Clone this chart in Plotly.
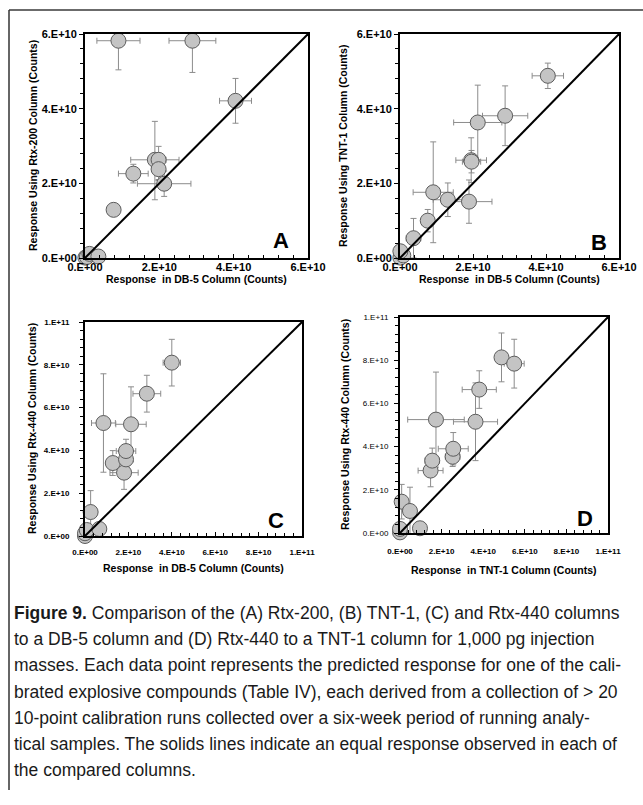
import plotly.graph_objects as go

# ---------------- data (units of 1e10 counts) ----------------
# Panel A: Rtx-200 vs DB-5
a_x = [0.01, 0.05, 0.12, 0.36, 0.77, 1.30, 1.88, 1.98, 1.98, 2.13, 0.90, 2.89, 4.05]
a_y = [0.01, 0.03, 0.11, 0.04, 1.29, 2.26, 2.63, 2.63, 2.38, 1.99, 5.82, 5.82, 4.21]
a_ex = [0.0, 0.0, 0.05, 0.15, 0.0, 0.40, 0.65, 0.20, 0.15, 0.72, 0.58, 0.63, 0.43]
a_eyp = [0.0, 0.0, 0.05, 0.0, 0.0, 0.25, 1.03, 0.36, 0.30, 0.34, 0.34, 0.34, 0.60]
a_eym = [0.0, 0.0, 0.05, 0.0, 0.0, 0.25, 1.07, 0.53, 0.30, 0.34, 0.78, 0.85, 0.60]

# Panel B: TNT-1 vs DB-5
b_x = [0.01, 0.09, 0.01, 0.37, 0.76, 0.91, 1.31, 1.89, 1.95, 1.96, 2.13, 2.88, 4.05]
b_y = [0.01, 0.07, 0.18, 0.53, 1.00, 1.76, 1.56, 1.51, 2.62, 2.58, 3.63, 3.81, 4.88]
b_ex = [0.0, 0.0, 0.0, 0.20, 0.10, 0.55, 0.40, 0.63, 0.42, 0.25, 0.66, 0.62, 0.43]
b_eyp = [0.0, 0.0, 0.0, 0.53, 0.30, 1.35, 0.45, 0.58, 0.60, 0.30, 1.00, 0.80, 0.34]
b_eym = [0.0, 0.0, 0.0, 0.53, 0.30, 1.35, 0.45, 0.58, 0.60, 0.30, 1.00, 0.80, 0.34]

# Panel C: Rtx-440 vs DB-5
c_x = [0.0, 0.0, 0.08, 0.26, 0.66, 0.85, 1.28, 1.80, 1.89, 1.89, 2.12, 2.85, 4.00]
c_y = [0.0, 0.13, 0.28, 1.12, 0.33, 5.28, 3.41, 2.96, 3.58, 3.97, 5.22, 6.65, 8.10]
c_ex = [0.0, 0.0, 0.0, 0.10, 0.15, 0.55, 0.20, 0.65, 0.20, 0.45, 0.70, 0.64, 0.40]
c_eyp = [0.0, 0.0, 0.0, 1.00, 0.10, 2.30, 0.58, 0.78, 0.50, 0.55, 1.75, 0.86, 1.09]
c_eym = [0.0, 0.0, 0.0, 1.00, 0.10, 2.30, 0.58, 0.78, 0.50, 0.55, 1.75, 0.86, 1.09]

# Panel D: Rtx-440 vs TNT-1
d_x = [0.0, 0.0, 0.08, 0.48, 0.96, 1.47, 1.55, 1.73, 2.53, 2.56, 3.63, 3.81, 4.88, 5.49]
d_y = [0.03, 0.19, 1.45, 1.02, 0.22, 2.89, 3.35, 5.25, 3.53, 3.90, 5.15, 6.64, 8.13, 7.84]
d_ex = [0.0, 0.0, 0.10, 0.30, 0.10, 0.60, 0.35, 1.36, 0.35, 0.72, 1.06, 0.82, 0.15, 0.48]
d_eyp = [0.0, 0.0, 0.80, 1.10, 0.10, 0.75, 0.58, 2.20, 0.45, 0.75, 1.80, 0.87, 1.13, 1.13]
d_eym = [0.0, 0.0, 0.80, 1.10, 0.10, 0.75, 0.58, 2.20, 0.45, 0.75, 1.80, 0.87, 1.13, 1.13]

UNIT = 1e10

ticks_6 = [0, 2e10, 4e10, 6e10]
ticklabels_6 = ["0.E+00", "2.E+10", "4.E+10", "6.E+10"]
ticks_10 = [0, 2e10, 4e10, 6e10, 8e10, 1e11]
ticklabels_10 = ["0.E+00", "2.E+10", "4.E+10", "6.E+10", "8.E+10", "1.E+11"]

letters = ["A", "B", "C", "D"]
x_titles = ["Response  in DB-5 Column (Counts)", "Response  in DB-5 Column (Counts)",
            "Response  in DB-5 Column (Counts)", "Response  in TNT-1 Column (Counts)"]
y_titles = ["Response Using Rtx-200 Column (Counts)", "Response Using TNT-1 Column (Counts)",
            "Response Using Rtx-440 Column (Counts)", "Response Using Rtx-440 Column (Counts)"]

caption_lines = [
    "<b>Figure 9.</b> Comparison of the (A) Rtx-200, (B) TNT-1, (C) and Rtx-440 columns",
    "to a DB-5 column and (D) Rtx-440 to a TNT-1 column for 1,000 pg injection",
    "masses. Each data point represents the predicted response for one of the cali-",
    "brated explosive compounds (Table IV), each derived from a collection of > 20",
    "10-point calibration runs collected over a six-week period of running analy-",
    "tical samples. The solids lines indicate an equal response observed in each of",
    "the compared columns.",
]

# ---------------- layout helpers ----------------
W, H = 643, 805
def px(x):
    return x / W
def py(y):
    return 1 - y / H

# pixel boxes of plot areas: (left, top, right, bottom)
boxes = [(85, 34, 308, 258), (400, 34, 619, 258), (85, 322, 302, 536), (400, 317, 608, 533)]
ymax = [6e10, 6e10, 1e11, 1e11]
tv = [ticks_6, ticks_6, ticks_10, ticks_10]
tt = [ticklabels_6, ticklabels_6, ticklabels_10, ticklabels_10]
tick_size = [11, 11, 8, 8]
ytitle_x = [33, 343, 32, 345]
xtitle_y = [279, 279, 568, 570]
xlabel_standoff = [-2, -2, 7, 9]
ylabel_standoff = [0, 0, 8, 4]
letter_pos = [(291, 240), (609, 243), (286, 520), (595, 518)]

panels = [
    (a_x, a_y, a_ex, a_eyp, a_eym),
    (b_x, b_y, b_ex, b_eyp, b_eym),
    (c_x, c_y, c_ex, c_eyp, c_eym),
    (d_x, d_y, d_ex, d_eyp, d_eym),
]

FONT = "Liberation Sans"
fig = go.Figure()
layout = dict(
    template="none",
    width=W, height=H, margin=dict(l=0, r=0, t=0, b=0, pad=0, autoexpand=False),
    paper_bgcolor="white", plot_bgcolor="white", showlegend=False,
    annotations=[], shapes=[],
)

for i, (xs, ys, ex, eyp, eym) in enumerate(panels):
    n = "" if i == 0 else str(i + 1)
    xa, ya = "x" + n, "y" + n
    l, t, r, b = boxes[i]
    minor_common = dict(tickmode="linear", tick0=0, dtick=4e9, ticklen=3, tickcolor="black", tickwidth=1)
    axis_common = dict(
        range=[0, ymax[i]], tickmode="array", tickvals=tv[i], ticktext=tt[i],
        showgrid=False, zeroline=False, showline=True, linecolor="black", linewidth=2,
        mirror=True, tickcolor="black", ticklen=4, tickwidth=1, automargin=False,
        tickfont=dict(family=FONT, size=tick_size[i], color="black", weight="bold"),
        fixedrange=True,
    )
    xaxis = dict(axis_common, domain=[px(l), px(r)], anchor=ya, ticks="inside",
                 minor=dict(minor_common, ticks="inside"), ticklabelstandoff=xlabel_standoff[i])
    yaxis = dict(axis_common, domain=[py(b), py(t)], anchor=xa, ticks="outside",
                 minor=dict(minor_common, ticks="outside"), ticklabelstandoff=ylabel_standoff[i])
    if i == 3:
        yaxis["tickfont"] = dict(family=FONT, size=tick_size[i], color="black")
    layout["xaxis" + n] = xaxis
    layout["yaxis" + n] = yaxis

    fig.add_trace(go.Scatter(
        x=[v * UNIT for v in xs], y=[v * UNIT for v in ys], xaxis=xa, yaxis=ya,
        mode="markers", cliponaxis=False,
        marker=dict(size=15, color="#c4c4c4", line=dict(color="#5c5c5c", width=1)),
        error_x=dict(type="data", array=[v * UNIT for v in ex], color="#8c8c8c", thickness=1, width=3),
        error_y=dict(type="data", array=[v * UNIT for v in eyp], arrayminus=[v * UNIT for v in eym],
                     color="#8c8c8c", thickness=1, width=3),
    ))
    fig.add_trace(go.Scatter(
        x=[0, ymax[i]], y=[0, ymax[i]], xaxis=xa, yaxis=ya, mode="lines",
        line=dict(color="black", width=2), hoverinfo="skip",
    ))

    layout["annotations"].append(dict(
        text=x_titles[i], x=px((l + r) / 2), y=py(xtitle_y[i]), xref="paper", yref="paper",
        showarrow=False, xanchor="center", yanchor="middle",
        font=dict(family=FONT, size=10.5, color="black", weight="bold")))
    layout["annotations"].append(dict(
        text=y_titles[i], x=px(ytitle_x[i]), y=py((t + b) / 2), xref="paper", yref="paper",
        showarrow=False, xanchor="center", yanchor="middle", textangle=-90,
        font=dict(family=FONT, size=10.5, color="black", weight="bold")))
    lx, ly = letter_pos[i]
    layout["annotations"].append(dict(
        text=letters[i], x=px(lx), y=py(ly), xref="paper", yref="paper",
        showarrow=False, xanchor="right", yanchor="middle",
        font=dict(family=FONT, size=22, color="black", weight="bold")))

# caption
for k, line in enumerate(caption_lines):
    layout["annotations"].append(dict(
        text=line, x=px(12), y=py(613 + 26.2 * k), xref="paper", yref="paper",
        showarrow=False, xanchor="left", yanchor="middle", align="left",
        font=dict(family=FONT, size=17.5, color="#1a1a1a")))

# outer frame (top and left rules)
layout["shapes"].append(dict(type="line", xref="paper", yref="paper",
                             x0=px(9), x1=1, y0=py(10), y1=py(10), line=dict(color="#6b6b6b", width=2)))
layout["shapes"].append(dict(type="line", xref="paper", yref="paper",
                             x0=px(9), x1=px(9), y0=py(10), y1=py(790), line=dict(color="#333333", width=1.5)))

fig.update_layout(**layout)
fig.write_html("out.html")
